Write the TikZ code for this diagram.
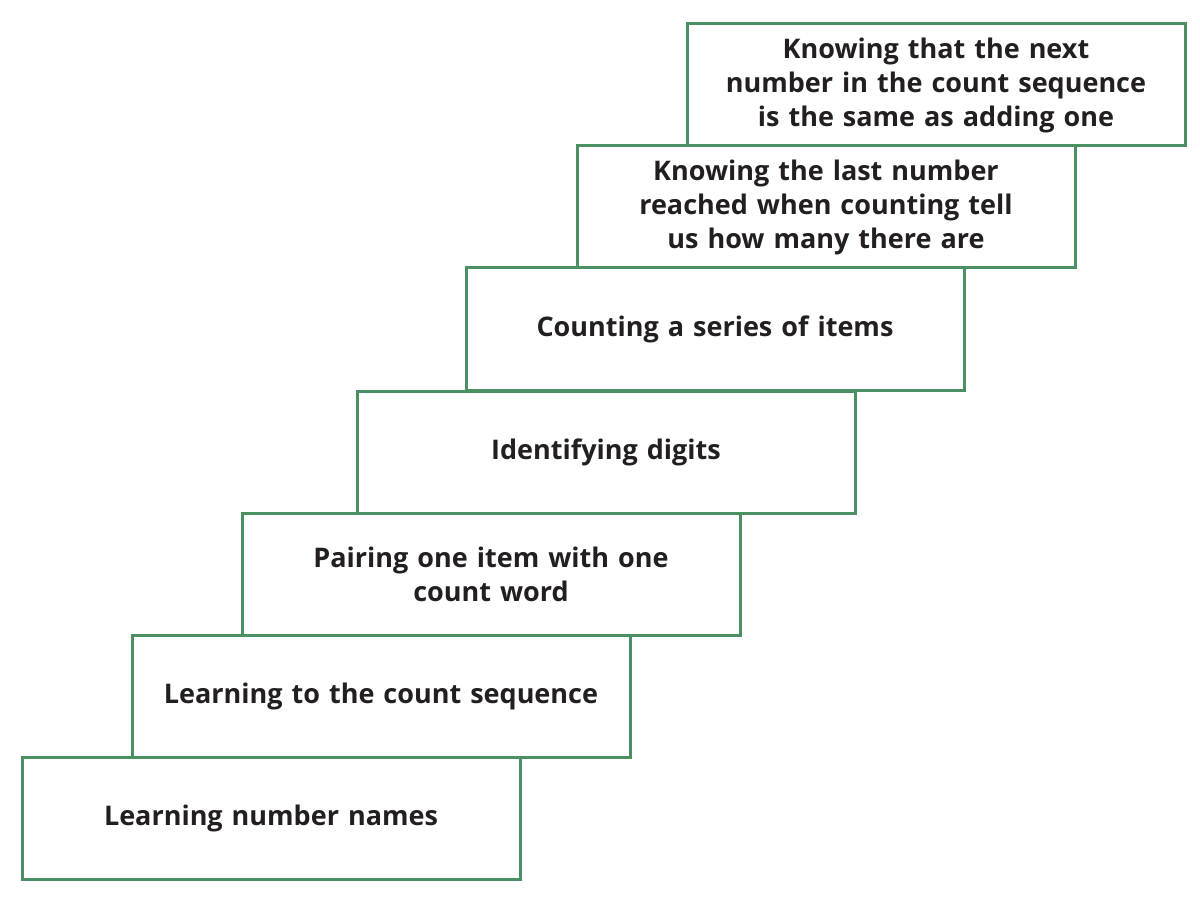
\documentclass[tikz,border=0pt]{standalone}
\usepackage{fontspec}
\setmainfont{Open Sans}
\definecolor{stepgreen}{RGB}{74,144,98}
\definecolor{txt}{RGB}{35,31,32}
\begin{document}
\begin{tikzpicture}[x=1pt,y=-1pt,
  stepbox/.style={draw=stepgreen,line width=3pt,minimum width=498pt,minimum height=122pt,
    anchor=north west,inner sep=0pt,outer sep=0pt,align=center,text=txt,
    font=\fontsize{27}{34}\selectfont\bfseries,text width=440pt}]
\useasboundingbox (0,0) rectangle (1200,904);
\node[stepbox] (s1) at (22,757) {Learning number names};
\node[stepbox] (s2) at (132,635) {Learning to the count sequence};
\node[stepbox] (s3) at (242,513) {Pairing one item with one\\count word};
\node[stepbox] (s4) at (357,391) {Identifying digits};
\node[stepbox] (s5) at (466,268) {Counting a series of items};
\node[stepbox] (s6) at (577,146) {Knowing the last number\\reached when counting tell\\us how many there are};
\node[stepbox] (s7) at (687,24) {Knowing that the next\\number in the count sequence\\is the same as adding one};
\end{tikzpicture}
\end{document}
